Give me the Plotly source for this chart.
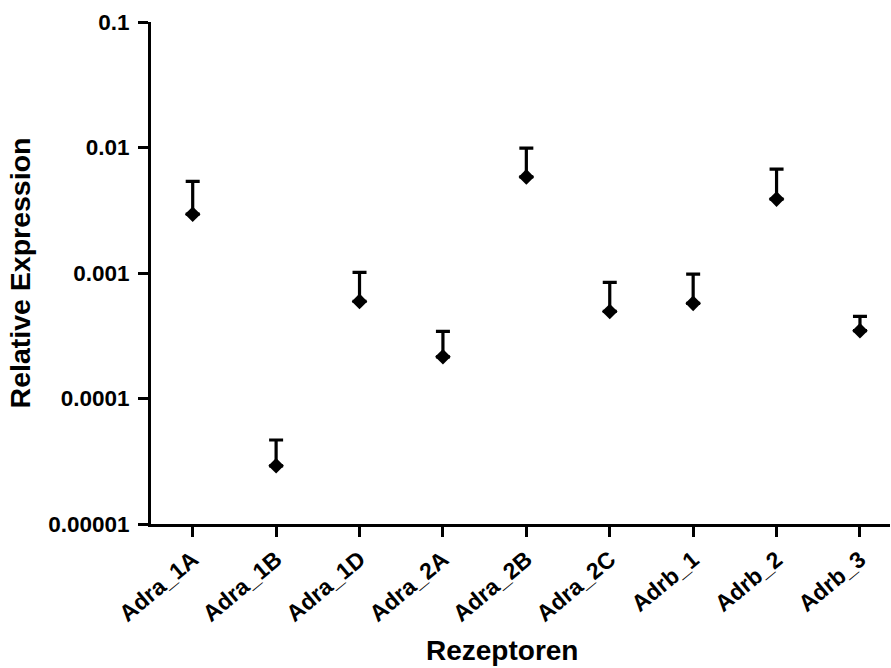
import plotly.graph_objects as go

categories = ["Adra_1A", "Adra_1B", "Adra_1D", "Adra_2A", "Adra_2B",
              "Adra_2C", "Adrb_1", "Adrb_2", "Adrb_3"]
mean_expr = [0.00294, 0.0000291, 0.000594, 0.000215, 0.00583,
             0.000494, 0.000573, 0.00388, 0.000347]
upper_expr = [0.00537, 0.0000467, 0.00101, 0.000343, 0.0099,
              0.000841, 0.00098, 0.00673, 0.000451]
err_plus = [u - m for u, m in zip(upper_expr, mean_expr)]
err_minus = [0] * len(categories)
ytick_vals = [0.00001, 0.0001, 0.001, 0.01, 0.1]
ytick_text = ["0.00001", "0.0001", "0.001", "0.01", "0.1"]

FONT = "Liberation Sans, Arial, sans-serif"

fig = go.Figure()
fig.add_trace(go.Scatter(
    x=categories, y=mean_expr, mode="markers",
    marker=dict(symbol="diamond", size=12, color="black"),
    error_y=dict(type="data", symmetric=False, array=err_plus,
                 arrayminus=err_minus, color="black", thickness=3.2, width=7),
    showlegend=False,
))

fig.update_layout(
    width=891, height=668,
    margin=dict(l=151, r=1, t=22, b=144),
    paper_bgcolor="white", plot_bgcolor="white",
    font=dict(family=FONT, color="black", size=22, weight=700),
    xaxis=dict(
        type="category", range=[-0.5, 8.36],
        showline=True, linecolor="black", linewidth=3,
        ticks="outside", ticklen=10, tickwidth=3, tickcolor="black",
        tickangle=-40, showgrid=False, zeroline=False,
        tickfont=dict(family=FONT, size=23, weight=700),
    ),
    yaxis=dict(
        type="log", range=[-5, -1],
        tickvals=ytick_vals, ticktext=ytick_text,
        showline=True, linecolor="black", linewidth=3,
        ticks="outside", ticklen=10, tickwidth=3, tickcolor="black",
        showgrid=False, zeroline=False,
        tickfont=dict(family=FONT, size=22.5, weight=700),
        ticklabelstandoff=4,
        title=dict(text="Relative Expression", font=dict(family=FONT, size=28.5, weight=700),
                   standoff=10),
    ),
    annotations=[dict(
        text="Rezeptoren", xref="paper", yref="paper",
        x=0.475, y=-0.252, xanchor="center", yanchor="middle",
        showarrow=False, font=dict(family=FONT, size=28, weight=700),
    )],
)

fig.write_html("out.html")
